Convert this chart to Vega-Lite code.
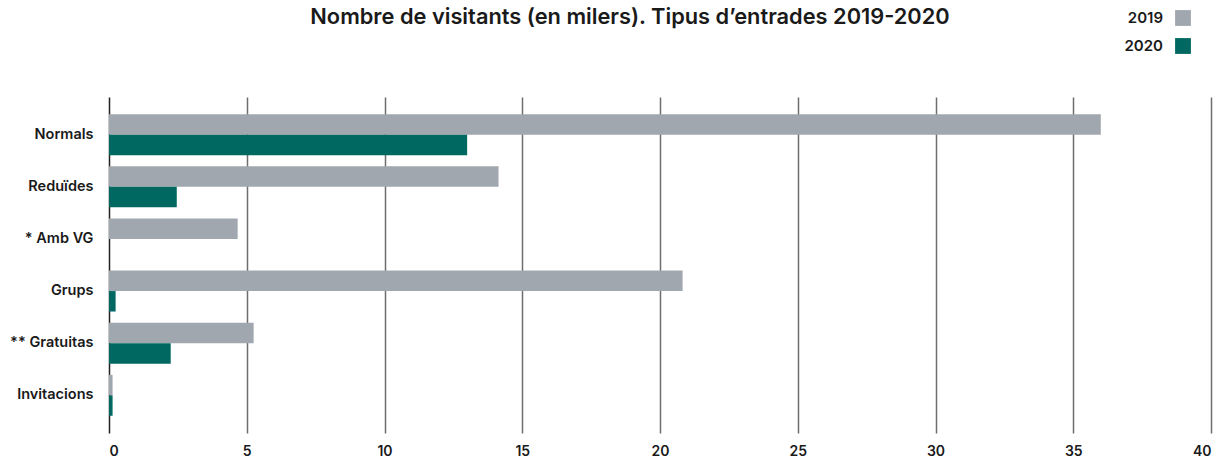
{
  "$schema": "https://vega.github.io/schema/vega-lite/v6.json",
  "width": 1102,
  "height": 336,
  "autosize": {"type": "none"},
  "padding": {"left": 109, "top": 97, "right": 19, "bottom": 30},
  "background": "white",
  "title": {
    "text": "Nombre de visitants (en milers). Tipus d’entrades 2019-2020",
    "anchor": "middle",
    "dx": -30,
    "offset": -19,
    "font": "Inter",
    "fontSize": 21.8,
    "fontWeight": 600,
    "color": "#1a1a1a"
  },
  "data": {
    "values": [
      {"tipus": "Normals", "any": "2019", "valor": 36.0},
      {"tipus": "Normals", "any": "2020", "valor": 13.0},
      {"tipus": "Reduïdes", "any": "2019", "valor": 14.14},
      {"tipus": "Reduïdes", "any": "2020", "valor": 2.46},
      {"tipus": "* Amb VG", "any": "2019", "valor": 4.67},
      {"tipus": "Grups", "any": "2019", "valor": 20.82},
      {"tipus": "Grups", "any": "2020", "valor": 0.24},
      {"tipus": "** Gratuitas", "any": "2019", "valor": 5.25},
      {"tipus": "** Gratuitas", "any": "2020", "valor": 2.24},
      {"tipus": "Invitacions", "any": "2019", "valor": 0.13},
      {"tipus": "Invitacions", "any": "2020", "valor": 0.13}
    ]
  },
  "mark": {"type": "bar"},
  "encoding": {
    "y": {
      "field": "tipus",
      "type": "nominal",
      "sort": ["Normals", "Reduïdes", "* Amb VG", "Grups", "** Gratuitas", "Invitacions"],
      "scale": {"paddingInner": 0.215, "paddingOuter": 0.33},
      "axis": {
        "title": null,
        "domain": false,
        "ticks": false,
        "grid": false,
        "labelPadding": 16,
        "labelFont": "Inter",
        "labelFontSize": 14.5,
        "labelFontWeight": 600,
        "labelColor": "#1a1a1a"
      }
    },
    "yOffset": {"field": "any", "type": "nominal", "sort": ["2019", "2020"], "scale": {"paddingInner": 0, "paddingOuter": 0}},
    "x": {
      "field": "valor",
      "type": "quantitative",
      "scale": {"domain": [0, 40], "nice": false},
      "axis": {
        "title": null,
        "domain": false,
        "ticks": false,
        "values": [0, 5, 10, 15, 20, 25, 30, 35, 40],
        "grid": true,
        "gridColor": {"condition": {"test": "datum.value === 0", "value": "#222222"}, "value": "#6e6e6e"},
        "gridWidth": 1.5,
        "gridOpacity": 1,
        "labelPadding": 11,
        "labelFont": "Inter",
        "labelFontSize": 14,
        "labelFontWeight": 600,
        "labelColor": "#1a1a1a"
      }
    },
    "color": {
      "field": "any",
      "type": "nominal",
      "scale": {"domain": ["2019", "2020"], "range": ["#a1a7ae", "#006861"]},
      "legend": {
        "title": null,
        "orient": "none",
        "legendX": 1066,
        "legendY": -87,
        "symbolType": "square",
        "symbolSize": 250,
        "symbolStrokeWidth": 0,
        "symbolOpacity": 1,
        "rowPadding": 12,
        "labelAlign": "right",
        "labelOffset": -28,
        "labelFont": "Inter",
        "labelFontSize": 15,
        "labelFontWeight": 600,
        "labelColor": "#1a1a1a"
      }
    }
  },
  "config": {"view": {"stroke": null}}
}
